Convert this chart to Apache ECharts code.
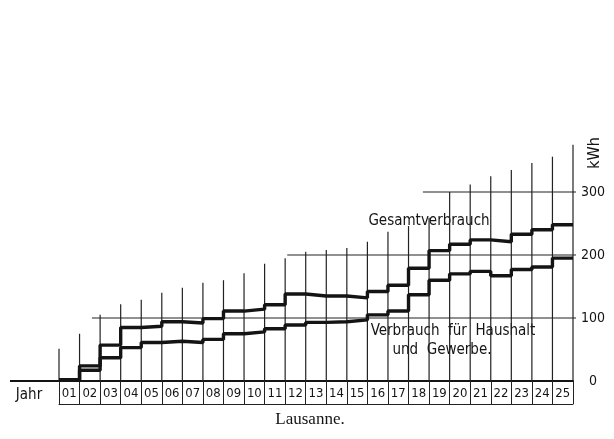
<!DOCTYPE html>
<html>
<head>
<meta charset="utf-8">
<script src="https://cdn.jsdelivr.net/npm/echarts@6/dist/echarts.min.js"></script>
<style>
  html, body { margin: 0; padding: 0; background: #fff; }
  #chart { width: 614px; height: 439px; }
</style>
</head>
<body>
<div id="chart"></div>
<script>
const years = ['01', '02', '03', '04', '05', '06', '07', '08', '09', '10', '11', '12', '13',
  '14', '15', '16', '17', '18', '19', '20', '21', '22', '23', '24', '25'];

// kWh je Jahr
const gesamt = [2, 24, 57, 85, 87, 94, 92, 99, 111, 114, 121, 138, 135, 135, 132,
  142, 152, 179, 207, 217, 224, 221, 233, 240, 248];
const haushalt = [2, 17, 37, 53, 61, 63, 61, 66, 75, 78, 83, 89, 93, 94, 97,
  105, 111, 137, 160, 170, 174, 167, 177, 181, 195];

// height of the vertical rules at each year boundary (kWh)
const ruleTops = [51, 75, 105, 122, 129, 140, 148, 156, 160, 171, 186, 195, 205, 208, 211,
  221, 237, 246, 259, 300, 312, 325, 335, 346, 356, 375];

// horizontal rules: level and where they start (in years from the left)
const ruleLevels = [100, 200, 300];
const ruleStarts = [1.6, 11.1, 17.7];

const yLabels = [0, 100, 200, 300];

const font = '"DejaVu Sans Condensed", "Liberation Sans Narrow", sans-serif';
const ink = '#141414';
const rule = '#222';

function stepData(values) {
  const pts = values.map((v, i) => [i, v]);
  pts.push([values.length, values[values.length - 1]]);
  return pts;
}

const chart = echarts.init(document.getElementById('chart'));

const option = {
  backgroundColor: '#fff',
  animation: false,
  grid: { left: 59, right: 41, top: 129, bottom: 58 },
  xAxis: [
    {
      type: 'category',
      data: years,
      boundaryGap: true,
      axisLine: { lineStyle: { color: ink, width: 2 } },
      axisTick: { show: true, length: 23, interval: 0, lineStyle: { color: rule, width: 1 } },
      axisLabel: { interval: 0, margin: 6, color: ink, fontFamily: font, fontSize: 13 },
      splitLine: { show: false }
    },
    {
      type: 'value',
      min: 0,
      max: years.length,
      show: false
    },
    {
      type: 'category',
      data: years,
      position: 'bottom',
      offset: 23,
      axisLine: { lineStyle: { color: rule, width: 1 } },
      axisTick: { show: false },
      axisLabel: { show: false }
    }
  ],
  yAxis: {
    type: 'value',
    position: 'right',
    min: 0,
    max: 400,
    interval: 100,
    axisLine: { show: false },
    axisTick: { show: false },
    splitLine: { show: false },
    axisLabel: {
      margin: 20,
      align: 'center',
      color: ink,
      fontFamily: font,
      fontSize: 14,
      formatter: v => (yLabels.includes(v) ? String(v) : '')
    }
  },
  series: [
    {
      type: 'custom',
      xAxisIndex: 1,
      silent: true,
      data: ruleTops.map((t, i) => [i, t]),
      renderItem: (params, api) => {
        const p0 = api.coord([api.value(0), 0]);
        const p1 = api.coord([api.value(0), api.value(1)]);
        return {
          type: 'line',
          shape: { x1: p0[0], y1: p0[1], x2: p1[0], y2: p1[1] },
          style: { stroke: rule, lineWidth: 1.2 }
        };
      }
    },
    {
      type: 'custom',
      xAxisIndex: 1,
      silent: true,
      data: ruleLevels.map((l, i) => [ruleStarts[i], l]),
      renderItem: (params, api) => {
        const p0 = api.coord([api.value(0), api.value(1)]);
        const p1 = api.coord([years.length, api.value(1)]);
        return {
          type: 'line',
          shape: { x1: p0[0], y1: p0[1], x2: p1[0] + 3, y2: p1[1] },
          style: { stroke: rule, lineWidth: 1.2 }
        };
      }
    },
    {
      name: 'Gesamtverbrauch',
      type: 'line',
      xAxisIndex: 1,
      step: 'end',
      symbol: 'none',
      data: stepData(gesamt),
      lineStyle: { color: ink, width: 3.4 }
    },
    {
      name: 'Verbrauch für Haushalt und Gewerbe',
      type: 'line',
      xAxisIndex: 1,
      step: 'end',
      symbol: 'none',
      data: stepData(haushalt),
      lineStyle: { color: ink, width: 3.4 }
    }
  ],
  graphic: [
    {
      type: 'line',
      shape: { x1: 10, y1: 381, x2: 59, y2: 381 },
      style: { stroke: ink, lineWidth: 2 }
    },
    {
      type: 'text',
      x: 29, y: 395,
      style: { text: 'Jahr', font: '15px ' + font, fill: ink, textAlign: 'center', textVerticalAlign: 'middle' }
    },
    {
      type: 'text',
      x: 429, y: 221,
      style: { text: 'Gesamtverbrauch', font: '15px ' + font, fill: ink, textAlign: 'center', textVerticalAlign: 'middle' }
    },
    {
      type: 'text',
      x: 453, y: 331,
      style: { text: 'Verbrauch  für  Haushalt', font: '15px ' + font, fill: ink, textAlign: 'center', textVerticalAlign: 'middle' }
    },
    {
      type: 'text',
      x: 442, y: 350,
      style: { text: 'und  Gewerbe.', font: '15px ' + font, fill: ink, textAlign: 'center', textVerticalAlign: 'middle' }
    },
    {
      type: 'text',
      x: 595, y: 153,
      rotation: Math.PI / 2,
      style: { text: 'kWh', font: '16px ' + font, fill: ink, textAlign: 'center', textVerticalAlign: 'middle' }
    },
    {
      type: 'text',
      x: 310, y: 420,
      style: { text: 'Lausanne.', font: '17px "Liberation Serif", "DejaVu Serif", serif', fill: ink, textAlign: 'center', textVerticalAlign: 'middle' }
    }
  ]
};

chart.setOption(option);
</script>
</body>
</html>
